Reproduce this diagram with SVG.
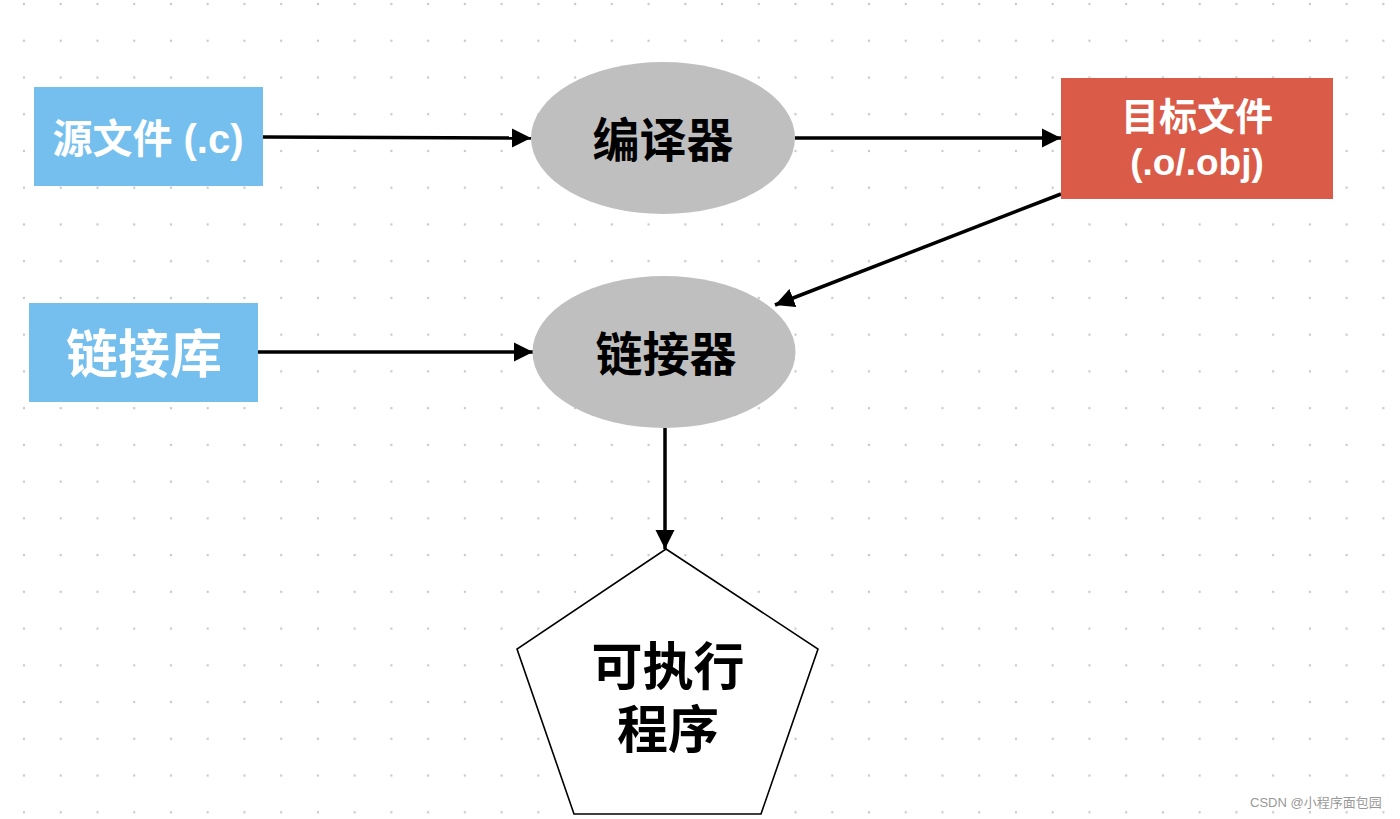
<svg xmlns="http://www.w3.org/2000/svg" width="1400" height="819" viewBox="0 0 1400 819">
<defs>
<pattern id="dots" x="24" y="4" width="36.74" height="36.74" patternUnits="userSpaceOnUse">
<circle cx="0" cy="0" r="1.2" fill="#c8c8c8"/>
<circle cx="36.74" cy="0" r="1.2" fill="#c8c8c8"/>
<circle cx="0" cy="36.74" r="1.2" fill="#c8c8c8"/>
<circle cx="36.74" cy="36.74" r="1.2" fill="#c8c8c8"/>
</pattern>
<marker id="arr" viewBox="0 0 10 10" refX="10" refY="5" markerWidth="5.5" markerHeight="5.5" orient="auto" markerUnits="strokeWidth">
<path d="M0,0 L10,5 L0,10 z" fill="#000"/>
</marker>
<style>
.t{font-family:"Liberation Sans","Noto Sans CJK SC",sans-serif;font-weight:bold;text-anchor:middle;dominant-baseline:central}
.w{fill:#fff}
.k{fill:#000}
.blue{fill:#75bfef}
.gray{fill:#bfbfbf}
.conn{stroke:#000;stroke-width:3.5;fill:none;marker-end:url(#arr)}
</style>
</defs>
<rect width="1400" height="819" fill="#fff"/>
<rect width="1400" height="819" fill="url(#dots)"/>

<g id="connectors">
<line class="conn" x1="263" y1="137" x2="531" y2="138"/>
<line class="conn" x1="795" y1="138" x2="1061" y2="138"/>
<line class="conn" x1="1061" y1="194" x2="775" y2="305"/>
<line class="conn" x1="258" y1="352" x2="533" y2="352"/>
<line class="conn" x1="665" y1="428" x2="665" y2="549"/>
</g>

<g id="source">
<rect class="blue" x="34" y="87" width="229" height="99"/>
<text class="t w" x="148" y="139" font-size="40">源文件 (.c)</text>
</g>

<g id="compiler">
<ellipse class="gray" cx="663" cy="138" rx="132" ry="76"/>
<text class="t k" x="663" y="140" font-size="47">编译器</text>
</g>

<g id="object">
<rect x="1061" y="78" width="272" height="121" fill="#d95b48"/>
<text class="t w" x="1197" y="117" font-size="38">目标文件</text>
<text class="t w" x="1197" y="162" font-size="37">(.o/.obj)</text>
</g>

<g id="library">
<rect class="blue" x="29" y="303" width="229" height="99"/>
<text class="t w" x="144" y="355" font-size="52">链接库</text>
</g>

<g id="linker">
<ellipse class="gray" cx="664" cy="352" rx="131.5" ry="76"/>
<text class="t k" x="666" y="354" font-size="47">链接器</text>
</g>

<g id="executable">
<polygon points="666,549 818,649 761,814 574,814 517,649" fill="#fff" stroke="#000" stroke-width="1.6"/>
<text class="t k" x="668" y="667" font-size="51">可执行</text>
<text class="t k" x="668" y="730" font-size="51">程序</text>
</g>

<text x="1250" y="807" font-family="'Liberation Sans','Noto Sans CJK SC',sans-serif" font-size="13" fill="#999">CSDN @小程序面包园</text>
</svg>
